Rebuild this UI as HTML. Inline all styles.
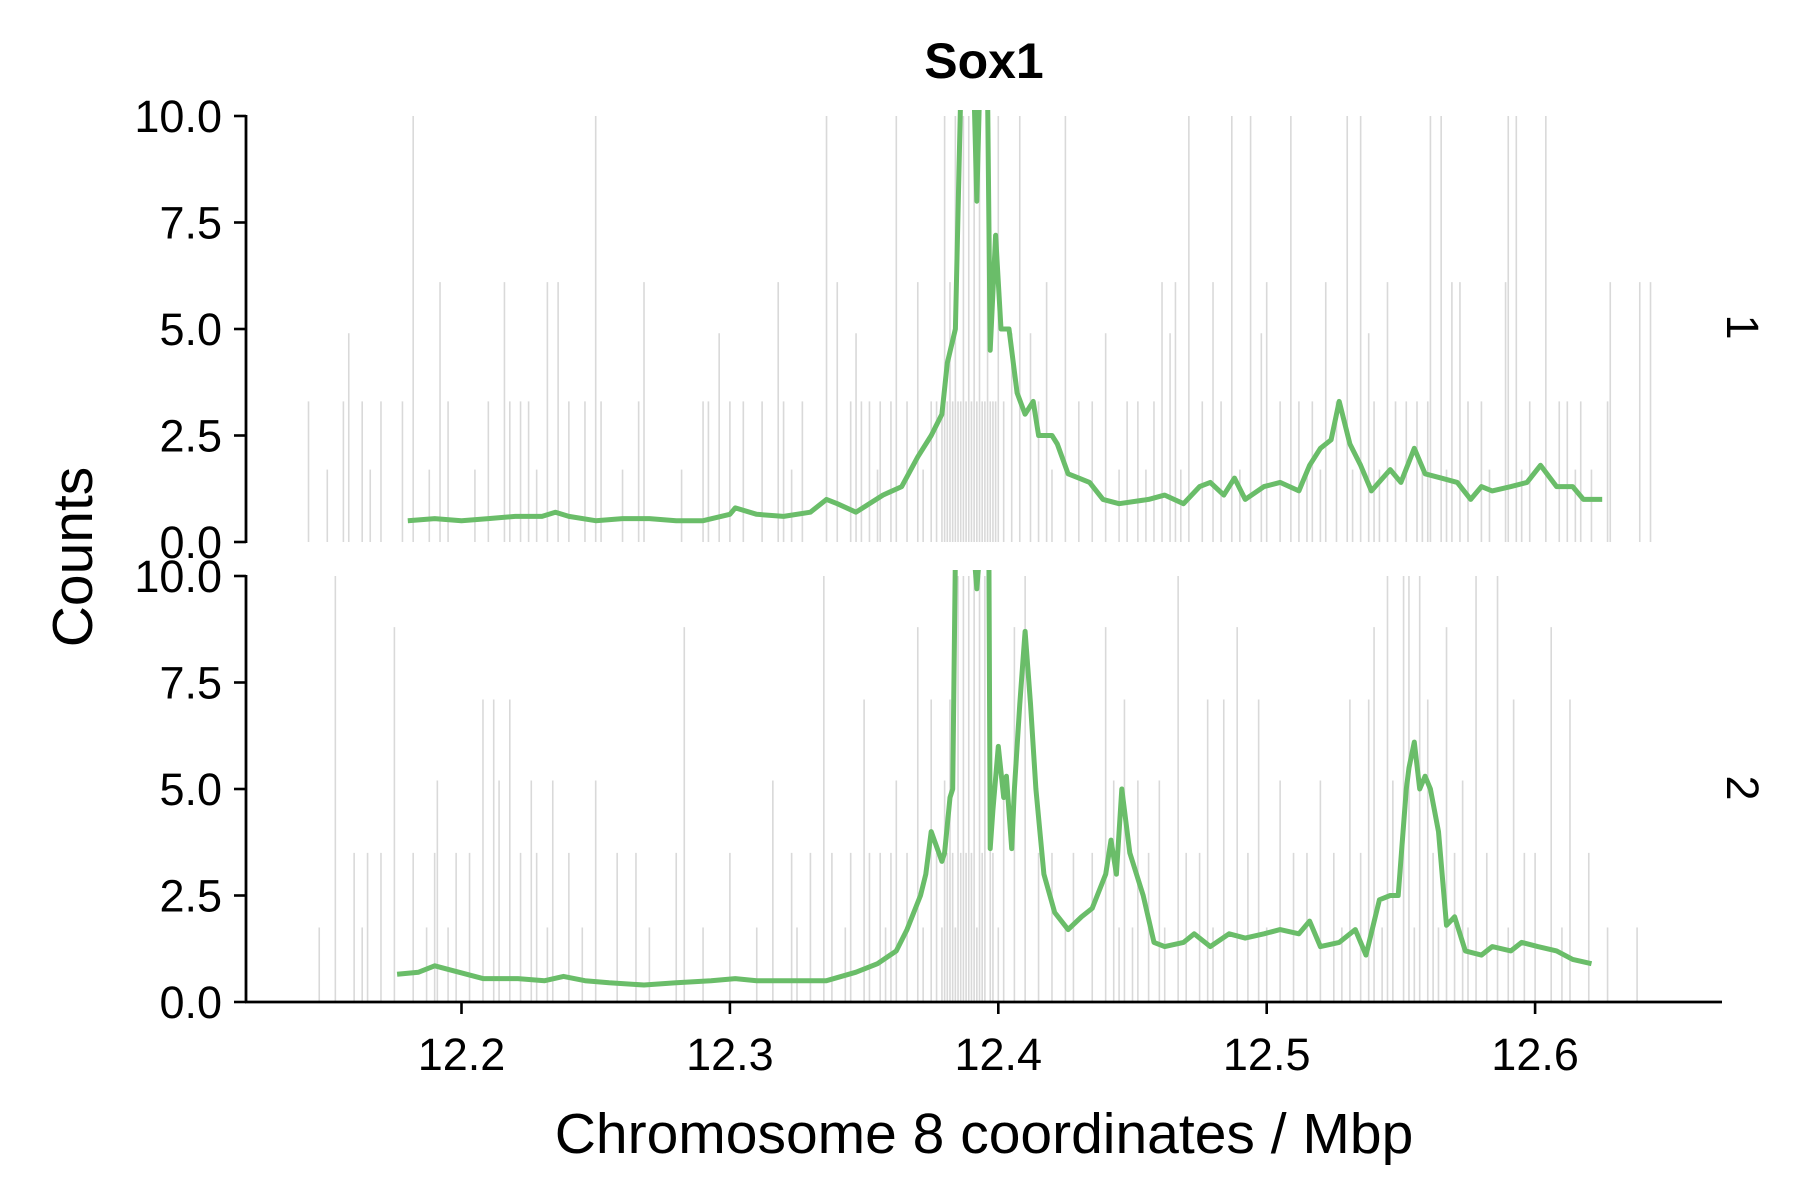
<!DOCTYPE html>
<html><head><meta charset="utf-8"><style>
html,body{margin:0;padding:0;background:#fff}
svg{display:block}
text{font-family:"Liberation Sans",sans-serif;fill:#000}
</style></head><body>
<svg id="chart" width="1800" height="1200" viewBox="0 0 1800 1200" xmlns="http://www.w3.org/2000/svg">
<defs>
<clipPath id="c1"><rect x="246" y="110" width="1480" height="432"/></clipPath>
<clipPath id="c2"><rect x="246" y="570" width="1480" height="432"/></clipPath>
</defs>
<text x="984" y="78" font-size="50" font-weight="bold" text-anchor="middle">Sox1</text>
<text transform="translate(92,557) rotate(-90)" font-size="57" text-anchor="middle">Counts</text>
<text x="984" y="1153" font-size="57" text-anchor="middle">Chromosome 8 coordinates / Mbp</text>
<text transform="translate(1727,327) rotate(90)" font-size="45" text-anchor="middle">1</text>
<text transform="translate(1727,788) rotate(90)" font-size="45" text-anchor="middle">2</text>
<g id="p1bars" clip-path="url(#c1)"></g>
<g id="p2bars" clip-path="url(#c2)"></g>
<g id="p1line" clip-path="url(#c1)"></g>
<g id="p2line" clip-path="url(#c2)"></g>
<g id="axes"></g>
</svg>
<script>
const xTicks=[12.2,12.3,12.4,12.5,12.6];
const yTicks=[0,2.5,5,7.5,10];
const yTickLabels=["0.0","2.5","5.0","7.5","10.0"];
// panel 1 smoothed line
const line1X=[12.18,12.19,12.20,12.21,12.22,12.23,12.235,12.24,12.25,12.26,12.27,12.28,12.29,12.30,12.302,12.31,12.32,12.33,12.336,12.34,12.347,12.357,12.364,12.37,12.375,12.379,12.381,12.384,12.386,12.391,12.392,12.393,12.396,12.397,12.399,12.401,12.404,12.407,12.41,12.413,12.415,12.42,12.422,12.426,12.43,12.434,12.439,12.445,12.456,12.462,12.469,12.475,12.479,12.484,12.488,12.492,12.499,12.505,12.512,12.516,12.520,12.524,12.527,12.531,12.535,12.539,12.546,12.55,12.555,12.559,12.565,12.571,12.576,12.58,12.584,12.591,12.597,12.602,12.608,12.614,12.618,12.625];
const line1Y=[0.5,0.55,0.5,0.55,0.6,0.6,0.7,0.6,0.5,0.55,0.55,0.5,0.5,0.65,0.8,0.65,0.6,0.7,1.0,0.9,0.7,1.1,1.3,2.0,2.5,3.0,4.2,5.0,10.5,10.5,8.0,10.5,10.5,4.5,7.2,5.0,5.0,3.5,3.0,3.3,2.5,2.5,2.3,1.6,1.5,1.4,1.0,0.9,1.0,1.1,0.9,1.3,1.4,1.1,1.5,1.0,1.3,1.4,1.2,1.8,2.2,2.4,3.3,2.3,1.8,1.2,1.7,1.4,2.2,1.6,1.5,1.4,1.0,1.3,1.2,1.3,1.4,1.8,1.3,1.3,1.0,1.0];
// panel 2 smoothed line
const line2X=[12.176,12.184,12.19,12.199,12.208,12.221,12.231,12.238,12.246,12.255,12.268,12.28,12.293,12.302,12.31,12.323,12.336,12.347,12.355,12.362,12.366,12.371,12.373,12.375,12.379,12.38,12.382,12.383,12.384,12.391,12.392,12.393,12.3965,12.397,12.398,12.4,12.402,12.403,12.405,12.406,12.408,12.41,12.412,12.414,12.417,12.421,12.426,12.431,12.435,12.44,12.442,12.444,12.446,12.449,12.454,12.458,12.462,12.469,12.473,12.479,12.486,12.492,12.499,12.505,12.512,12.516,12.52,12.527,12.533,12.537,12.542,12.546,12.549,12.552,12.553,12.555,12.557,12.559,12.561,12.564,12.567,12.57,12.574,12.58,12.584,12.591,12.595,12.601,12.608,12.614,12.621];
const line2Y=[0.65,0.7,0.85,0.7,0.55,0.55,0.5,0.6,0.5,0.45,0.4,0.45,0.5,0.55,0.5,0.5,0.5,0.7,0.9,1.2,1.7,2.5,3.0,4.0,3.3,3.5,4.8,5.0,10.5,10.5,9.7,10.5,10.5,3.6,4.5,6.0,4.8,5.3,3.6,5.0,7.0,8.7,7.0,5.0,3.0,2.1,1.7,2.0,2.2,3.0,3.8,3.0,5.0,3.5,2.5,1.4,1.3,1.4,1.6,1.3,1.6,1.5,1.6,1.7,1.6,1.9,1.3,1.4,1.7,1.1,2.4,2.5,2.5,5.0,5.5,6.1,5.0,5.3,5.0,4.0,1.8,2.0,1.2,1.1,1.3,1.2,1.4,1.3,1.2,1.0,0.9];
// panel 1 raw count bars, grouped by height level
const bars1Levels=[10,6.1,4.9,3.3,1.7];
const bars1L0=[12.182,12.250,12.336,12.362,12.380,12.384,12.387,12.389,12.391,12.393,12.396,12.400,12.408,12.425,12.471,12.487,12.494,12.509,12.530,12.535,12.561,12.565,12.590,12.593,12.604];
const bars1L1=[12.192,12.216,12.232,12.236,12.268,12.318,12.340,12.370,12.382,12.418,12.461,12.466,12.480,12.500,12.522,12.545,12.569,12.572,12.589,12.628,12.639,12.643];
const bars1L2=[12.158,12.296,12.347,12.405,12.412,12.440,12.464,12.498,12.538];
const bars1L3=[12.143,12.156,12.163,12.170,12.178,12.195,12.210,12.218,12.222,12.225,12.240,12.246,12.252,12.266,12.290,12.292,12.300,12.305,12.312,12.320,12.327,12.345,12.349,12.352,12.356,12.360,12.366,12.375,12.377,12.379,12.381,12.383,12.385,12.386,12.388,12.390,12.392,12.394,12.395,12.397,12.398,12.399,12.402,12.415,12.430,12.435,12.448,12.452,12.458,12.476,12.483,12.505,12.512,12.517,12.526,12.540,12.548,12.552,12.556,12.560,12.575,12.580,12.598,12.609,12.612,12.617,12.627];
const bars1L4=[12.150,12.166,12.188,12.205,12.228,12.260,12.282,12.323,12.355,12.372,12.420,12.445,12.455,12.468,12.490,12.515,12.520,12.532,12.542,12.558,12.567,12.583,12.595,12.615,12.621];
// panel 2 raw count bars
const bars2Levels=[10,8.8,7.1,5.2,3.5,1.75];
const bars2L0=[12.153,12.335,12.385,12.387,12.389,12.391,12.393,12.395,12.410,12.467,12.545,12.551,12.553,12.557,12.578,12.586];
const bars2L1=[12.175,12.283,12.370,12.406,12.440,12.489,12.540,12.567,12.606];
const bars2L2=[12.208,12.212,12.218,12.350,12.375,12.382,12.397,12.447,12.478,12.484,12.497,12.531,12.538,12.560,12.592,12.613];
const bars2L3=[12.191,12.214,12.226,12.234,12.250,12.316,12.362,12.380,12.402,12.443,12.452,12.460,12.505,12.520,12.547,12.573];
const bars2L4=[12.160,12.165,12.170,12.182,12.190,12.198,12.203,12.222,12.228,12.240,12.258,12.265,12.280,12.300,12.323,12.330,12.338,12.345,12.352,12.356,12.360,12.366,12.377,12.381,12.383,12.386,12.388,12.390,12.394,12.398,12.415,12.420,12.428,12.435,12.456,12.470,12.475,12.493,12.510,12.515,12.525,12.535,12.562,12.570,12.582,12.596,12.600,12.620];
const bars2L5=[12.147,12.163,12.187,12.195,12.232,12.245,12.270,12.290,12.310,12.325,12.343,12.358,12.372,12.379,12.384,12.392,12.400,12.425,12.445,12.450,12.462,12.480,12.500,12.528,12.543,12.555,12.564,12.575,12.590,12.610,12.627,12.638];

const NS="http://www.w3.org/2000/svg";
function xs(v){return 461.5+(v-12.2)*2684;}
const panels=[{top:116,bot:542},{top:576,bot:1002}];
function ys(p,v){const P=panels[p];return P.bot-(v/10)*(P.bot-P.top);}
function mk(tag,attrs,parent){const e=document.createElementNS(NS,tag);for(const k in attrs)e.setAttribute(k,attrs[k]);parent.appendChild(e);return e;}

function drawBars(p,levels,groups,gid){
  const g=document.getElementById(gid);
  groups.forEach((arr,i)=>{arr.forEach(v=>{
    const l=mk('line',{x1:xs(v),x2:xs(v),y1:ys(p,0),y2:ys(p,levels[i]),stroke:'#d9d9d9','stroke-width':1.6},g);
    
    
  });});
}
drawBars(0,bars1Levels,[bars1L0,bars1L1,bars1L2,bars1L3,bars1L4],'p1bars');
drawBars(1,bars2Levels,[bars2L0,bars2L1,bars2L2,bars2L3,bars2L4,bars2L5],'p2bars');

function drawLine(p,X,Y,gid,name){
  const g=document.getElementById(gid);
  const d=X.map((x,i)=>(i?'L':'M')+xs(x).toFixed(1)+','+ys(p,Y[i]).toFixed(1)).join(' ');
  const path=mk('path',{d:d,fill:'none',stroke:'#6abd69','stroke-width':5,'stroke-linejoin':'round'},g);
  
  
}
drawLine(0,line1X,line1Y,'p1line','signal-line-1');
drawLine(1,line2X,line2Y,'p2line','signal-line-2');

const ax=document.getElementById('axes');
panels.forEach((P,p)=>{
  const a=mk('line',{x1:246,x2:246,y1:P.top-1,y2:P.bot+1,stroke:'#000','stroke-width':2.8},ax);
  
  
  yTicks.forEach((t,i)=>{
    const y=ys(p,t);
    const tk=mk('line',{x1:234,x2:246,y1:y,y2:y,stroke:'#000','stroke-width':2.6},ax);
    
    
    const tx=mk('text',{x:222,y:y+16,'font-size':45,'text-anchor':'end'},ax);
    tx.textContent=yTickLabels[i];
    
    
  });
});
const xa=mk('line',{x1:245,x2:1722,y1:1002,y2:1002,stroke:'#000','stroke-width':2.8},ax);


xTicks.forEach(t=>{
  const x=xs(t);
  const tk=mk('line',{x1:x,x2:x,y1:1002,y2:1014,stroke:'#000','stroke-width':2.6},ax);
  
  
  const tx=mk('text',{x:x,y:1070,'font-size':45,'text-anchor':'middle'},ax);
  tx.textContent=t.toFixed(1);
  
  
});
</script>
</body></html>
